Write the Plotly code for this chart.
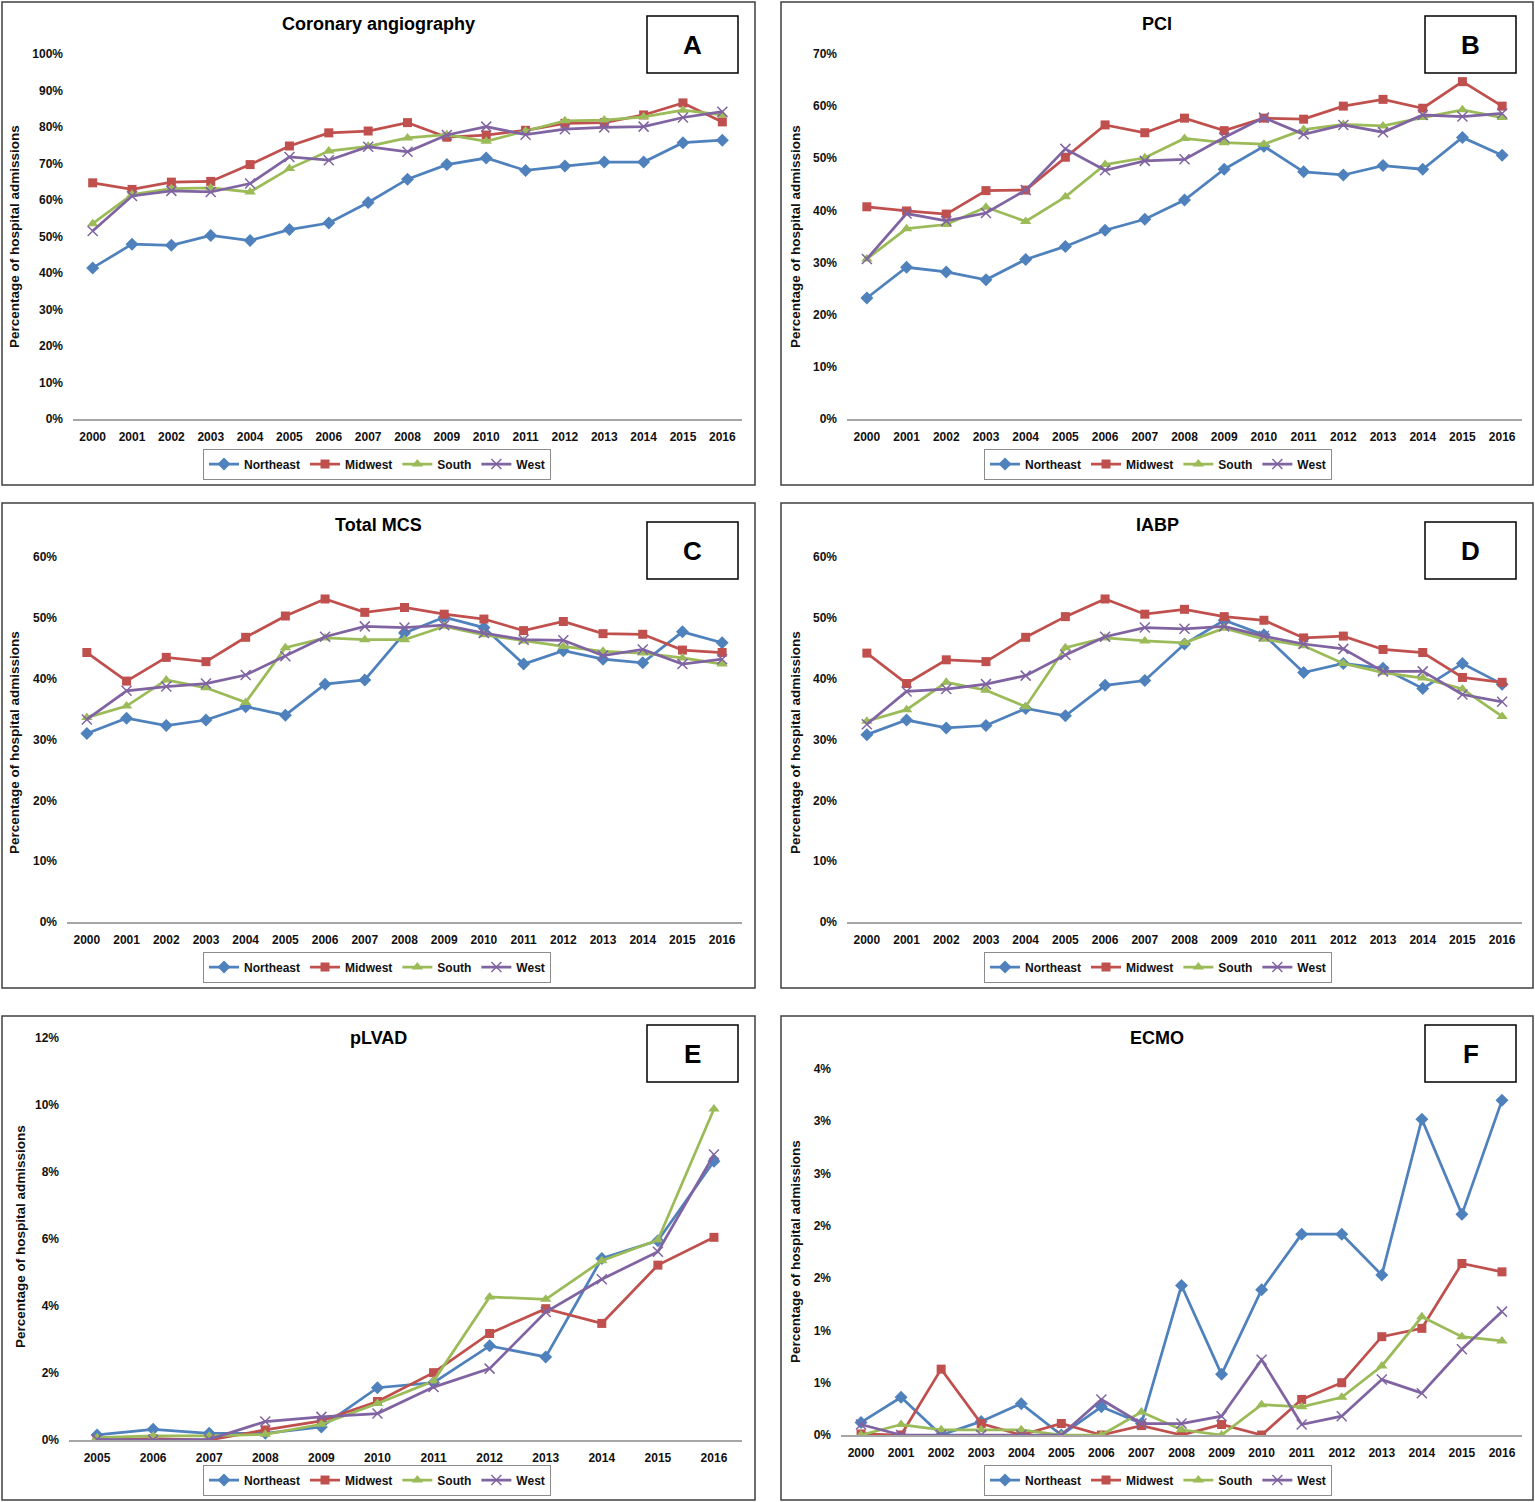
import plotly.graph_objects as go

# ---- data (percent of hospital admissions) ----
years = list(range(2000, 2017))
years_plvad = list(range(2005, 2017))
regions = ["Northeast", "Midwest", "South", "West"]

angio_ne = [41.4, 47.9, 47.6, 50.3, 48.9, 51.9, 53.7, 59.3, 65.7, 69.7, 71.5, 68.1, 69.3, 70.4, 70.4, 75.7, 76.4]
angio_mw = [64.7, 62.9, 64.9, 65.1, 69.7, 74.8, 78.4, 78.9, 81.2, 77.2, 77.8, 79.1, 81.0, 81.2, 83.3, 86.6, 81.4]
angio_so = [53.5, 61.5, 63.1, 63.3, 62.2, 68.6, 73.4, 74.7, 77.0, 77.9, 76.1, 78.9, 81.7, 81.9, 82.8, 84.6, 83.3]
angio_we = [51.5, 61.1, 62.5, 62.2, 64.5, 71.8, 70.9, 74.6, 73.2, 77.8, 80.1, 77.9, 79.4, 79.9, 80.1, 82.6, 84.2]

pci_ne = [23.2, 29.1, 28.2, 26.7, 30.6, 33.1, 36.2, 38.3, 42.0, 47.9, 52.3, 47.4, 46.8, 48.6, 47.9, 54.0, 50.6]
pci_mw = [40.7, 39.9, 39.3, 43.8, 43.9, 50.2, 56.4, 54.9, 57.7, 55.3, 57.7, 57.5, 60.0, 61.3, 59.6, 64.7, 60.0]
pci_so = [30.7, 36.5, 37.3, 40.6, 37.9, 42.6, 48.8, 50.1, 53.8, 53.0, 52.7, 55.5, 56.5, 56.2, 57.8, 59.3, 57.8]
pci_we = [30.7, 39.4, 38.0, 39.5, 43.9, 51.8, 47.7, 49.5, 49.8, 54.0, 57.8, 54.6, 56.4, 55.0, 58.3, 58.0, 58.6]

mcs_ne = [31.0, 33.5, 32.3, 33.2, 35.4, 34.0, 39.1, 39.8, 47.5, 50.1, 48.4, 42.4, 44.6, 43.2, 42.6, 47.7, 45.9]
mcs_mw = [44.3, 39.6, 43.5, 42.8, 46.8, 50.3, 53.1, 50.9, 51.7, 50.6, 49.8, 47.9, 49.4, 47.4, 47.3, 44.7, 44.3]
mcs_so = [33.6, 35.5, 39.8, 38.5, 36.1, 45.1, 46.7, 46.4, 46.4, 48.6, 47.2, 46.2, 45.3, 44.5, 44.2, 43.4, 42.4]
mcs_we = [33.3, 38.0, 38.7, 39.2, 40.6, 43.7, 46.9, 48.6, 48.4, 48.8, 47.5, 46.4, 46.3, 43.8, 44.8, 42.4, 43.2]

iabp_ne = [30.8, 33.2, 31.9, 32.3, 35.1, 33.9, 38.9, 39.7, 45.7, 49.6, 47.2, 41.0, 42.5, 41.7, 38.4, 42.5, 39.1]
iabp_mw = [44.2, 39.2, 43.1, 42.8, 46.8, 50.2, 53.1, 50.6, 51.4, 50.2, 49.6, 46.7, 47.0, 44.8, 44.3, 40.2, 39.4]
iabp_so = [33.0, 34.9, 39.4, 38.1, 35.4, 45.1, 46.7, 46.2, 45.9, 48.3, 46.5, 45.4, 42.5, 41.0, 40.1, 38.3, 33.8]
iabp_we = [32.5, 37.9, 38.3, 39.1, 40.5, 43.9, 46.9, 48.4, 48.2, 48.6, 47.0, 45.7, 44.9, 41.2, 41.2, 37.4, 36.2]

plvad_ne = [0.15, 0.32, 0.20, 0.20, 0.39, 1.56, 1.71, 2.81, 2.48, 5.42, 5.95, 8.32]
plvad_mw = [0.00, 0.04, 0.00, 0.30, 0.57, 1.15, 2.01, 3.18, 3.92, 3.48, 5.22, 6.05]
plvad_so = [0.07, 0.12, 0.12, 0.17, 0.47, 1.09, 1.76, 4.27, 4.20, 5.35, 5.97, 9.88]
plvad_we = [0.02, 0.00, 0.02, 0.55, 0.69, 0.79, 1.58, 2.13, 3.82, 4.80, 5.62, 8.52]

ecmo_ne = [0.12, 0.36, 0.00, 0.13, 0.30, 0.00, 0.27, 0.11, 1.43, 0.58, 1.39, 1.92, 1.92, 1.53, 3.02, 2.11, 3.20]
ecmo_mw = [0.01, 0.00, 0.63, 0.11, 0.00, 0.11, 0.00, 0.09, 0.00, 0.10, 0.00, 0.34, 0.50, 0.94, 1.02, 1.64, 1.56]
ecmo_so = [0.00, 0.10, 0.05, 0.05, 0.05, 0.00, 0.00, 0.22, 0.05, 0.00, 0.29, 0.27, 0.36, 0.66, 1.13, 0.94, 0.90]
ecmo_we = [0.10, 0.00, 0.00, 0.00, 0.00, 0.00, 0.34, 0.11, 0.11, 0.18, 0.72, 0.10, 0.18, 0.53, 0.40, 0.82, 1.18]

ecmo_ticks = [0, 0.5, 1.0, 1.5, 2.0, 2.5, 3.0, 3.5]
ecmo_ticktext = ["0%", "1%", "1%", "2%", "2%", "3%", "3%", "4%"]

# ---- styling ----
W, H = 1535, 1502
colors = ["#4F81BD", "#C0504D", "#9BBB59", "#8064A2"]
symbols = ["diamond", "square", "triangle-up", "x-thin-open"]
msizes = [10, 9, 10, 10]
narrow = "Liberation Sans Narrow, Arial Narrow, Liberation Sans, sans-serif"
sans = "Liberation Sans, Arial, sans-serif"


def xd(a, b):
    return [a / W, b / W]


def yd(top, bottom):
    return [1 - bottom / H, 1 - top / H]


# title, letter, x, series, yrange, ydtick, xdomain px, ydomain px, border px, legend center px, ylabel pos
panels = [
    ("Coronary angiography", "A", years, [angio_ne, angio_mw, angio_so, angio_we], [0, 100], 10,
     (73, 742), (54, 419), (2, 2, 755, 485), (377, 464), (14, 237)),
    ("PCI", "B", years, [pci_ne, pci_mw, pci_so, pci_we], [0, 70], 10,
     (847, 1522), (54, 419), (781, 2, 1533, 485), (1158, 464), (795, 237)),
    ("Total MCS", "C", years, [mcs_ne, mcs_mw, mcs_so, mcs_we], [0, 60], 10,
     (67, 742), (557, 922), (2, 503, 755, 988), (377, 967), (14, 743)),
    ("IABP", "D", years, [iabp_ne, iabp_mw, iabp_so, iabp_we], [0, 60], 10,
     (847, 1522), (557, 922), (781, 503, 1533, 988), (1158, 967), (795, 743)),
    ("pLVAD", "E", years_plvad, [plvad_ne, plvad_mw, plvad_so, plvad_we], [0, 12], 2,
     (69, 742), (1038, 1440), (2, 1016, 755, 1500), (377, 1480), (20, 1237)),
    ("ECMO", "F", years, [ecmo_ne, ecmo_mw, ecmo_so, ecmo_we], [0, 3.5], None,
     (841, 1522), (1069, 1435), (781, 1016, 1533, 1500), (1158, 1480), (795, 1252)),
]

fig = go.Figure()
layout = dict(width=W, height=H, margin=dict(l=0, r=0, t=0, b=0, pad=0, autoexpand=False),
              paper_bgcolor="white", plot_bgcolor="white", showlegend=True)
shapes = []
annotations = []

for i, (title, letter, xs, series, yr, dt, xdom, ydom, border, legc, ylab) in enumerate(panels):
    n = i + 1
    xa = "x" if n == 1 else "x%d" % n
    ya = "y" if n == 1 else "y%d" % n
    leg = "legend" if n == 1 else "legend%d" % n
    for j, vals in enumerate(series):
        fig.add_trace(go.Scatter(
            x=xs, y=vals, name=regions[j], mode="lines+markers",
            xaxis=xa, yaxis=ya, legend=leg,
            line=dict(color=colors[j], width=2.75),
            marker=dict(symbol=symbols[j], size=msizes[j], color=colors[j],
                        line=dict(color=colors[j], width=1.5 if j == 3 else 0)),
        ))

    xkey = "xaxis" if n == 1 else "xaxis%d" % n
    ykey = "yaxis" if n == 1 else "yaxis%d" % n
    layout[xkey] = dict(domain=xd(*xdom), anchor=ya, range=[xs[0] - 0.5, xs[-1] + 0.5],
                        tickvals=xs, ticktext=[str(v) for v in xs], showgrid=False,
                        zeroline=False, showline=True, linecolor="#A6A6A6", linewidth=1.5,
                        ticks="", automargin=False, fixedrange=True, ticklabelstandoff=6,
                        tickfont=dict(family=narrow, size=12, color="#111", weight="bold"))
    ydict = dict(domain=yd(*ydom), anchor=xa, range=yr, showgrid=False, zeroline=False,
                 showline=False, ticks="", fixedrange=True, automargin=False,
                 ticklabelstandoff=9,
                 tickfont=dict(family=narrow, size=12, color="#111", weight="bold"))
    if dt is None:
        ydict.update(tickvals=ecmo_ticks, ticktext=ecmo_ticktext)
    else:
        ydict.update(tickmode="linear", tick0=0, dtick=dt, ticksuffix="%")
    layout[ykey] = ydict

    layout[leg] = dict(orientation="h", x=legc[0] / W, y=1 - legc[1] / H,
                       xanchor="center", yanchor="middle", bordercolor="#8C8C8C",
                       borderwidth=1, bgcolor="white", itemwidth=30, tracegroupgap=0,
                       font=dict(family=narrow, size=12, color="#111", weight="bold"))

    # outer panel border
    bx0, by0, bx1, by1 = border
    shapes.append(dict(type="rect", xref="paper", yref="paper",
                       x0=bx0 / W, x1=bx1 / W, y0=1 - by1 / H, y1=1 - by0 / H,
                       line=dict(color="#404040", width=1.5)))

    # title
    cx = (border[0] + border[2]) / 2
    annotations.append(dict(text=title, xref="paper", yref="paper", x=cx / W,
                            y=1 - (border[1] + 22) / H, xanchor="center", yanchor="middle",
                            showarrow=False,
                            font=dict(family=narrow, size=18, color="#000", weight="bold")))
    # letter box
    lx0 = border[2] - 108
    ly0 = border[1] + 14 if n <= 2 else border[1] + 19 if n <= 4 else border[1] + 9
    shapes.append(dict(type="rect", xref="paper", yref="paper",
                       x0=lx0 / W, x1=(lx0 + 91) / W, y0=1 - (ly0 + 57) / H, y1=1 - ly0 / H,
                       line=dict(color="#000", width=1.5), fillcolor="white"))
    annotations.append(dict(text=letter, xref="paper", yref="paper", x=(lx0 + 45.5) / W,
                            y=1 - (ly0 + 28.5) / H, xanchor="center", yanchor="middle",
                            showarrow=False,
                            font=dict(family=sans, size=26, color="#000", weight="bold")))
    # y-axis label
    annotations.append(dict(text="Percentage of hospital admissions", xref="paper", yref="paper",
                            x=ylab[0] / W, y=1 - ylab[1] / H, xanchor="center", yanchor="middle",
                            textangle=-90, showarrow=False,
                            font=dict(family=sans, size=13.5, color="#111", weight="bold")))

layout["shapes"] = shapes
layout["annotations"] = annotations
fig.update_layout(**layout)

# pin the figure to the window's top-left corner so it fills the 1535x1502 view exactly
pin = ("document.documentElement.style.overflow='hidden';"
       "document.body.style.margin='0';document.body.style.overflow='hidden';"
       "var d=document.getElementById('{plot_id}');"
       "d.style.position='fixed';d.style.left='0px';d.style.top='0px';")
fig.write_html("out.html", config={"displayModeBar": False}, post_script=pin)
